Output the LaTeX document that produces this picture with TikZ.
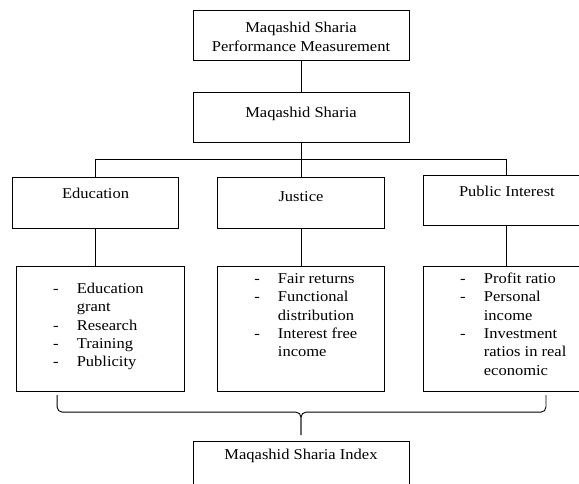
\documentclass[tikz,border=0pt]{standalone}
\usepackage{fontspec}
\setmainfont[FakeStretch=1.1]{Liberation Serif}
\usetikzlibrary{positioning}

\tikzset{
  box/.style 2 args={draw, line width=0.9pt, inner sep=0pt, minimum width=#1, minimum height=#2},
  txt/.style={anchor=base, inner sep=0pt, align=center, font=\fontsize{15}{19.4}\selectfont},
  lst/.style={anchor=base west, inner sep=0pt, font=\fontsize{15}{18.3}\selectfont},
  link/.style={line width=0.9pt},
}
\newcommand{\itemlist}[1]{\begin{tabular}[t]{@{}l@{\hspace{18.25pt}}l@{}}#1\end{tabular}}

\begin{document}
\begin{tikzpicture}[x=1pt,y=-1pt]
  \useasboundingbox (0,0) rectangle (579,484);
  \clip (0,0) rectangle (579,484);

  % 上面两个方框
  \node[box={216pt}{50pt}] (top) at (301,35) {};
  \node[box={216pt}{50pt}, below=32pt of top] (msh) {};

  % 三个分类方框
  \node[box={167pt}{51pt}, below=34pt of msh] (jus) {};
  \node[box={166pt}{51pt}, left=38pt of jus] (edu) {};
  \node[box={167pt}{50pt}, right=38pt of jus, yshift=2.5pt] (pub) {};

  % 指标方框
  \node[box={167pt}{125pt}, below=37pt of jus] (jusl) {};
  \node[box={168pt}{125pt}, below=37pt of edu, xshift=5pt] (edul) {};
  \node[box={167pt}{125pt}, below=40pt of pub] (publ) {};

  % 底部方框
  \node[box={216pt}{55pt}, below=48.5pt of jusl] (idx) {};

  % 文字
  \node[txt, anchor=north] (topt) at ([yshift=-12pt]top.north) {Maqashid Sharia\\Performance Measurement};
  \node[txt] (msht) at ([yshift=-24.7pt]msh.north) {Maqashid Sharia};
  \node[txt] (edut) at ([yshift=-21pt]edu.north) {Education};
  \node[txt] (just) at ([yshift=-24pt]jus.north) {Justice};
  \node[txt] (pubt) at ([yshift=-21pt]pub.north) {Public Interest};
  \node[txt] (idxt) at ([yshift=-19.2pt]idx.north) {Maqashid Sharia Index};

  % 列表
  \node[lst] (edulist) at ([xshift=36.7pt,yshift=-27.3pt]edul.north west)
    {\itemlist{-&Education\\ &grant\\ -&Research\\ -&Training\\ -&Publicity}};
  \node[lst] (juslist) at ([xshift=37pt,yshift=-17.3pt]jusl.north west)
    {\itemlist{-&Fair returns\\ -&Functional\\ &distribution\\ -&Interest free\\ &income}};
  \node[lst] (publist) at ([xshift=37pt,yshift=-17.3pt]publ.north west)
    {\itemlist{-&Profit ratio\\ -&Personal\\ &income\\ -&Investment\\ &ratios in real\\ &economic}};

  % 连线
  \draw[link] (top) -- (msh);
  \draw[link] (msh.south) -- ++(0,16) coordinate (fork);
  \draw[link] (edu.north) |- (fork) -| (pub.north);
  \draw[link] (fork) -- (jus.north);
  \draw[link] (edu.south) -- (edu.south |- edul.north);
  \draw[link] (jus.south) -- (jusl.north);
  \draw[link] (pub.south) -- (publ.north);

  % 大括号
  \coordinate (bl) at ([xshift=41pt,yshift=-3pt]edul.south west);
  \coordinate (brr) at ([xshift=123pt,yshift=-3pt]publ.south west);
  \coordinate (bm) at ([yshift=-20pt]jusl.south);
  \draw[link, rounded corners=5pt] (bl) |- (bm) -- ([yshift=5.5pt]idx.north);
  \draw[link, rounded corners=5pt] (brr) |- (bm) -- ([yshift=5.5pt]idx.north);
\end{tikzpicture}
\end{document}
